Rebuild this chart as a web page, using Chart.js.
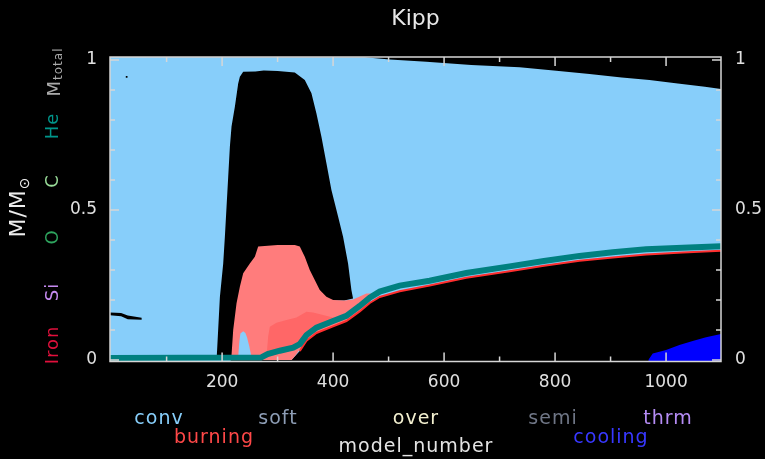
<!DOCTYPE html>
<html>
<head>
<meta charset="utf-8">
<title>Kipp</title>
<script src="https://cdn.jsdelivr.net/npm/chart.js@4.4.1/dist/chart.umd.min.js"></script>
<style>
	html, body { margin: 0; padding: 0; background: #000; }
	#kipp { display: block; }
</style>
</head>
<body>
<canvas id="kipp" width="765" height="459"></canvas>
<script>
// --- rango y ticks ---
var xMin = -2, xMax = 1099;
var yMin = -0.005, yMax = 1.01;
var xLabelTicks = [200, 400, 600, 800, 1000];
var xMinorTicks = [100, 300, 500, 700, 900];
var yLabelTicks = [0, 0.5, 1];
var yMinorTicks = [0.1, 0.2, 0.3, 0.4, 0.6, 0.7, 0.8, 0.9];

// masa total (borde superior de la region convectiva)
var mtotalX = [-2, 457, 502, 568, 649, 736, 802, 862, 920, 970, 1021, 1070, 1099];
var mtotalY = [1.01, 1.009, 1.002, 0.994, 0.983, 0.976, 0.964, 0.953, 0.942, 0.933, 0.922, 0.911, 0.903];

// zona radiativa grande (contorno)
var radX = [190, 191, 196, 202, 205, 208, 211, 214, 217, 223, 229, 232, 238, 260, 275, 300, 331,
	349, 361, 370, 379, 388, 397, 409, 418, 427, 433, 436, 420, 400, 370, 330, 300];
var radY = [0, 0.033, 0.21, 0.322, 0.411, 0.511, 0.611, 0.711, 0.778, 0.844, 0.922, 0.944, 0.961, 0.962, 0.965, 0.963, 0.958,
	0.933, 0.889, 0.822, 0.744, 0.656, 0.567, 0.478, 0.411, 0.322, 0.233, 0.205, 0.198, 0.198, 0.15, 0.05, 0];

// zona de quemado (contorno exterior e interior mas intenso)
var burnX = [217, 217, 220, 226, 232, 238, 250, 259, 265, 300, 331, 340, 349, 358, 367, 376, 388, 400, 420, 436, 448, 460, 470,
	466, 448, 424, 400, 370, 352, 340, 330, 325];
var burnY = [0, 0.017, 0.1, 0.189, 0.244, 0.289, 0.322, 0.344, 0.378, 0.383, 0.383, 0.378, 0.344, 0.3, 0.267, 0.233, 0.211, 0.2, 0.198, 0.202, 0.212, 0.222, 0.222,
	0.19, 0.162, 0.13, 0.112, 0.09, 0.064, 0.035, 0.01, 0];
var burnCoreX = [280, 283, 286, 298, 316, 334, 352, 364, 382, 400, 410, 400, 370, 352, 340, 328, 304, 282];
var burnCoreY = [0.012, 0.078, 0.111, 0.124, 0.133, 0.142, 0.161, 0.158, 0.15, 0.142, 0.135, 0.12, 0.098, 0.072, 0.045, 0.033, 0.022, 0.01];

// pequena burbuja convectiva dentro del quemado
var bumpX = [229, 231, 233, 238, 242, 245, 249, 253];
var bumpY = [0.01, 0.06, 0.088, 0.096, 0.09, 0.075, 0.045, 0.01];

// borde del nucleo de He (linea teal) y capa de H (linea roja)
var heX = [-2, 270, 282, 304, 328, 340, 352, 370, 400, 424, 448, 466, 484, 520, 574, 640, 718, 780, 844, 904, 964, 1030, 1099];
var heY = [0.007, 0.008, 0.02, 0.031, 0.041, 0.053, 0.083, 0.108, 0.13, 0.147, 0.18, 0.208, 0.228, 0.248, 0.264, 0.29, 0.312, 0.33, 0.347, 0.359, 0.369, 0.374, 0.379];
var hX = [215, 300, 325, 340, 352, 370, 400, 424, 448, 466, 484, 520, 574, 640, 718, 780, 844, 904, 964, 1030, 1099];
var hY = [0, 0, 0, 0.03, 0.064, 0.09, 0.112, 0.13, 0.162, 0.19, 0.21, 0.229, 0.248, 0.274, 0.296, 0.314, 0.331, 0.342, 0.352, 0.358, 0.364];

// enfriamiento (abajo a la derecha)
var coolX = [968, 976, 1000, 1024, 1048, 1072, 1099];
var coolY = [0, 0.022, 0.033, 0.05, 0.063, 0.076, 0.087];

// franja radiativa fina a la izquierda y punto suelto
var stripX = [-2, 18, 30, 55, 55, 30, 18, -2];
var stripY = [0.158, 0.157, 0.148, 0.141, 0.134, 0.136, 0.146, 0.149];
var dotX = [28];
var dotY = [0.944];

var leyendaArriba = ['conv', 'soft', 'over', 'semi', 'thrm'];
var leyendaAbajo = ['burning', 'cooling'];
var elementos = ['Iron', 'Si', 'O', 'C', 'He'];

var FUENTE = '"DejaVu Sans"';

function puntos(xs, ys) {
	return xs.map(function (x, i) { return { x: x, y: ys[i] }; });
}

function area(xs, ys, color, fill) {
	return {
		data: puntos(xs, ys),
		fill: fill,
		backgroundColor: color,
		borderColor: 'transparent',
		borderWidth: 0,
		pointRadius: 0,
		tension: 0,
	};
}

function linea(xs, ys, color, ancho) {
	return {
		data: puntos(xs, ys),
		fill: false,
		borderColor: color,
		borderWidth: ancho,
		pointRadius: 0,
		tension: 0,
		borderCapStyle: 'butt',
	};
}

// capas de abajo hacia arriba
var capas = [
	area(mtotalX, mtotalY, '#87cefa', 'start'),
	area(hX, hY, '#000000', 'start'),
	area(radX, radY, '#000000', 'shape'),
	area(burnX, burnY, '#ff7c7c', 'shape'),
	area(burnCoreX, burnCoreY, '#ff6767', 'shape'),
	area(bumpX, bumpY, '#87cefa', 'shape'),
	area(coolX, coolY, '#0000ff', 'start'),
	linea(hX.slice(3), hY.slice(3), '#ff2e2e', 2),
	linea(heX, heY, '#008080', 6),
	area(stripX, stripY, '#000000', 'shape'),
	{
		data: puntos(dotX, dotY),
		showLine: false,
		pointRadius: 1.2,
		pointStyle: 'rect',
		pointBackgroundColor: '#000',
		pointBorderWidth: 0,
	},
];
capas.forEach(function (c, i) {
	c.order = capas.length - i;
	c.clip = 0;
});

var marcoPlugin = {
	id: 'marco',
	afterDatasetsDraw: function (chart) {
		var ctx = chart.ctx;
		var a = chart.chartArea;
		var sx = chart.scales.x;
		var sy = chart.scales.y;
		ctx.save();
		ctx.strokeStyle = '#d6d6d6';
		ctx.lineWidth = 1.5;
		ctx.strokeRect(a.left, a.top, a.right - a.left, a.bottom - a.top);
		ctx.beginPath();
		function tx(v, len) {
			var p = sx.getPixelForValue(v);
			ctx.moveTo(p, a.top); ctx.lineTo(p, a.top + len);
			ctx.moveTo(p, a.bottom); ctx.lineTo(p, a.bottom - len);
		}
		function ty(v, len) {
			var p = sy.getPixelForValue(v);
			ctx.moveTo(a.left, p); ctx.lineTo(a.left + len, p);
			ctx.moveTo(a.right, p); ctx.lineTo(a.right - len, p);
		}
		xLabelTicks.forEach(function (v) { tx(v, 9); });
		xMinorTicks.forEach(function (v) { tx(v, 5); });
		yLabelTicks.forEach(function (v) { ty(v, 9); });
		yMinorTicks.forEach(function (v) { ty(v, 5); });
		ctx.stroke();
		ctx.restore();
	},
};

function textoVertical(ctx, partes, cx, cy) {
	ctx.save();
	ctx.translate(cx, cy);
	ctx.rotate(-Math.PI / 2);
	ctx.textAlign = 'left';
	ctx.textBaseline = 'middle';
	var total = 0;
	partes.forEach(function (p) {
		ctx.font = p.size + 'px ' + FUENTE;
		p.w = ctx.measureText(p.t).width;
		total += p.w;
	});
	var x = -total / 2;
	partes.forEach(function (p) {
		ctx.font = p.size + 'px ' + FUENTE;
		ctx.fillStyle = p.color;
		ctx.fillText(p.t, x, p.dy || 0);
		x += p.w;
	});
	ctx.restore();
}

var textosPlugin = {
	id: 'textos',
	afterDraw: function (chart) {
		var ctx = chart.ctx;
		ctx.save();
		ctx.letterSpacing = '1px';
		ctx.font = '19px ' + FUENTE;
		ctx.textAlign = 'center';
		ctx.textBaseline = 'alphabetic';

		var coloresArriba = ['#87cefa', '#8d9db5', '#f3f0d0', '#6f7686', '#b58cf5'];
		var xsArriba = [159, 278, 416, 553, 668];
		leyendaArriba.forEach(function (t, i) {
			ctx.fillStyle = coloresArriba[i];
			ctx.fillText(t, xsArriba[i], 424);
		});
		var coloresAbajo = ['#ff4848', '#3838ff'];
		var xsAbajo = [214, 611];
		leyendaAbajo.forEach(function (t, i) {
			ctx.fillStyle = coloresAbajo[i];
			ctx.fillText(t, xsAbajo[i], 443);
		});
		ctx.fillStyle = '#e4e4e4';
		ctx.fillText('model_number', 416, 452);

		// etiquetas verticales de la izquierda
		var coloresElem = ['#e0103c', '#c58af0', '#2ea45e', '#9ade9a', '#00958a'];
		var ysElem = [345, 292, 237, 181, 126];
		elementos.forEach(function (t, i) {
			textoVertical(ctx, [{ t: t, size: 18, color: coloresElem[i] }], 53, ysElem[i]);
		});
		textoVertical(ctx, [
			{ t: 'M', size: 18, color: '#aaaaaa' },
			{ t: 'total', size: 12, color: '#aaaaaa', dy: 4 },
		], 55, 72);
		textoVertical(ctx, [
			{ t: 'M/M', size: 22, color: '#eeeeee' },
			{ t: '\u2299', size: 14, color: '#eeeeee', dy: 6 },
		], 19, 207);
		ctx.restore();
	},
};

function ejeY(posicion, ancho, padding) {
	return {
		type: 'linear',
		position: posicion,
		min: yMin,
		max: yMax,
		afterBuildTicks: function (s) {
			s.ticks = yLabelTicks.map(function (v) { return { value: v }; });
		},
		afterFit: function (s) { s.width = ancho; },
		grid: { display: false, drawTicks: false },
		border: { display: false },
		ticks: {
			color: '#e0e0e0',
			padding: padding,
			font: { family: 'DejaVu Sans', size: 17 },
			callback: function (v) { return String(v); },
		},
	};
}

new Chart(document.getElementById('kipp'), {
	type: 'line',
	data: { datasets: capas },
	options: {
		responsive: false,
		animation: false,
		events: [],
		layout: { padding: 0 },
		scales: {
			x: {
				type: 'linear',
				min: xMin,
				max: xMax,
				afterBuildTicks: function (s) {
					s.ticks = xLabelTicks.map(function (v) { return { value: v }; });
				},
				afterFit: function (s) { s.height = 97.5; },
				grid: { display: false, drawTicks: false },
				border: { display: false },
				ticks: {
					color: '#e0e0e0',
					padding: 11,
					maxRotation: 0,
					autoSkip: false,
					font: { family: 'DejaVu Sans', size: 17 },
					callback: function (v) { return String(v); },
				},
			},
			y: ejeY('left', 110, 13),
			y2: ejeY('right', 44, 14),
		},
		plugins: {
			legend: { display: false },
			tooltip: { enabled: false },
			title: {
				display: true,
				text: 'Kipp',
				color: '#e8e8e8',
				fullSize: false,
				font: { family: 'DejaVu Sans', size: 22, weight: 'normal', lineHeight: 1.2 },
				padding: { top: 6, bottom: 24.6 },
			},
		},
	},
	plugins: [marcoPlugin, textosPlugin],
});
</script>
</body>
</html>
